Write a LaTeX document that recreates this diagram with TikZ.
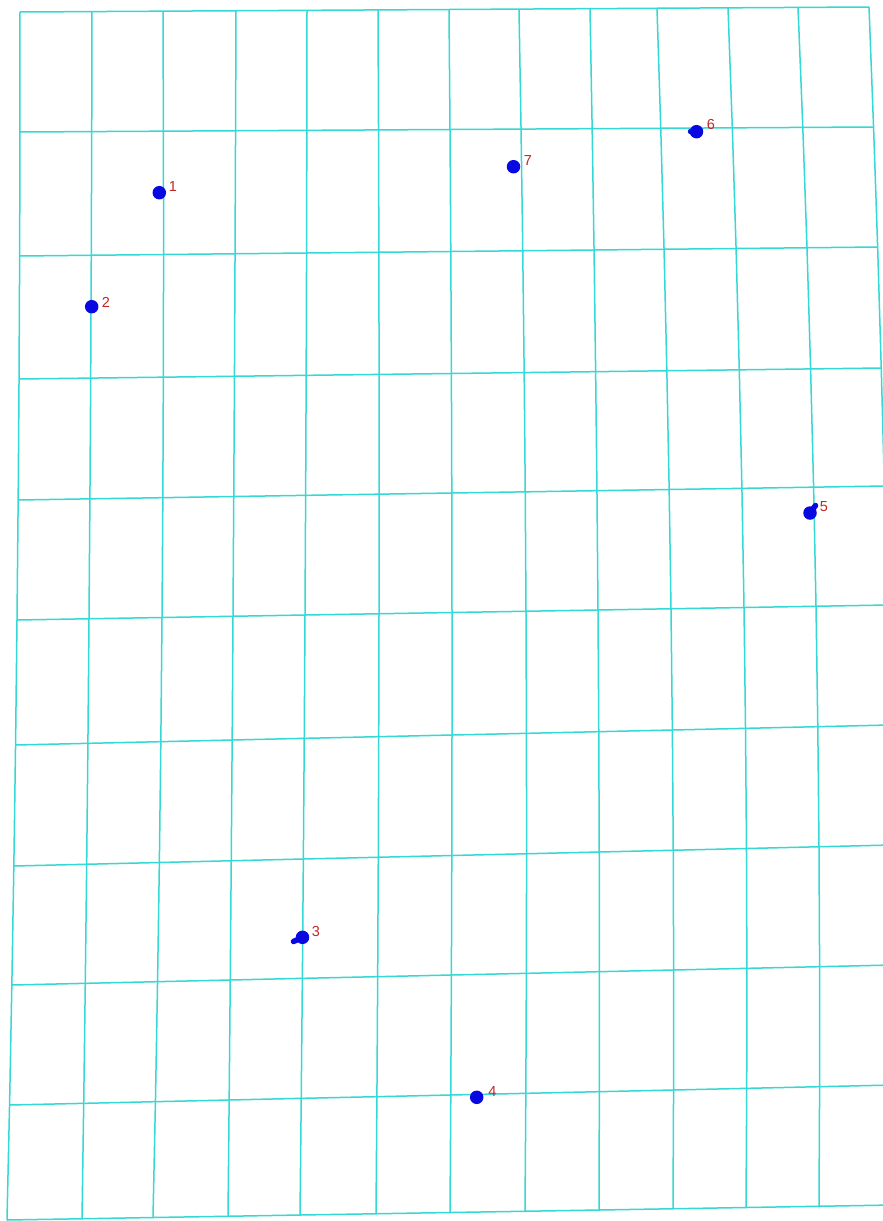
\documentclass[tikz,border=0pt]{standalone}
\usepackage{fontspec}
\setmainfont{Liberation Sans}
\definecolor{gridc}{RGB}{52,216,212}
\definecolor{dotc}{RGB}{8,8,225}
\definecolor{lblc}{RGB}{190,40,40}
\def\YL{{12,132,256,379,500,620,745,866,985,1105,1220}}
\def\YR{{7,127,247,368,486,605,725,845,965,1085,1205}}
\def\XT{{20,92,163,236,307,378,449,519,590,657,728,798,869}}
\def\XM{{17,89,162,233,305,379,452,526,598,671,744,816,887}}
\def\XB{{7,82,153,228,300,376,450,525,599,673,746,819,893}}
\begin{document}
\begin{tikzpicture}[x=1pt,y=-1pt,
  gridline/.style={draw=gridc,line width=1.5pt,line join=round},
  dot/.style={circle,fill=dotc,inner sep=0pt,minimum size=13.5pt},
  lbl/.style={text=lblc,font=\fontsize{14.5}{14.5}\selectfont,inner sep=0pt},
  tail/.style={draw=dotc,line width=5.5pt,line cap=round}]
\fill[white] (0,0) rectangle (883,1221);
\useasboundingbox (0,0) rectangle (883,1221);
\begin{scope}
\clip (0,0) rectangle (883,1221);
\foreach \i in {0,...,12}{
  \foreach \j in {0,...,10}{
    \pgfmathsetmacro\t{\j/10}
    \pgfmathsetmacro\px{\XT[\i]*(1-\t)*(1-2*\t)+\XM[\i]*4*\t*(1-\t)+\XB[\i]*\t*(2*\t-1)}
    \pgfmathsetmacro\py{\YL[\j]+(\YR[\j]-\YL[\j])*\i/12}
    \coordinate (p-\i-\j) at (\px,\py);
  }
}
\foreach \j in {0,...,10}{
  \draw[gridline] (p-0-\j) \foreach \i in {1,...,12}{ -- (p-\i-\j) };
}
\foreach \i in {0,...,12}{
  \draw[gridline] (p-\i-0) \foreach \j in {1,...,10}{ -- (p-\i-\j) };
}
\end{scope}
% dots
\node[dot] (d1) at (159.3,192.7) {};
\node[dot] (d2) at (91.7,306.7) {};
\node[dot] (d3) at (302.5,937.3) {};
\node[dot] (d4) at (476.7,1097.3) {};
\node[dot] (d5) at (810,513) {};
\node[dot] (d6) at (696.5,131.7) {};
\node[dot] (d7) at (513.5,166.7) {};
% tails
\coordinate (t3) at (293.5,941.5);
\coordinate (t5) at (815.5,505.5);
\coordinate (t6) at (690.5,131.5);
\draw[tail] (d3.center) -- (t3);
\draw[tail] (d5.center) -- (t5);
\draw[tail] (d6.center) -- (t6);
% labels
\node[lbl] (l1) at (173,187) {1};
\node[lbl] (l2) at (106,302) {2};
\node[lbl] (l3) at (316,931) {3};
\node[lbl] (l4) at (492.5,1091) {4};
\node[lbl] (l5) at (824,507) {5};
\node[lbl] (l6) at (711,125) {6};
\node[lbl] (l7) at (528,161) {7};
\end{tikzpicture}
\end{document}
